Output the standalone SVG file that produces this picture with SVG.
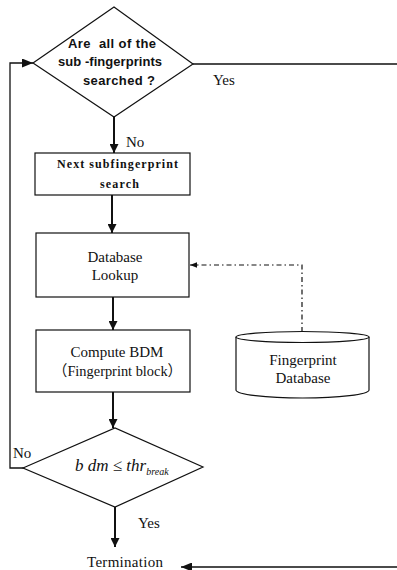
<svg xmlns="http://www.w3.org/2000/svg" width="397" height="570" viewBox="0 0 397 570">
  <style>
    .shape { fill: #fff; stroke: #111; stroke-width: 1.2; }
    .line { fill: none; stroke: #111; stroke-width: 1.3; }
    .thick { fill: none; stroke: #111; stroke-width: 2; }
    .dashdot { fill: none; stroke: #111; stroke-width: 1.2; stroke-dasharray: 5 3 1.5 3; }
    .serif { font-family: "Liberation Serif", "Times New Roman", serif; font-size: 15px; fill: #111; }
    .sans { font-family: "Liberation Sans", Arial, sans-serif; font-size: 13px; font-weight: bold; fill: #111; }
    .bold { font-family: "Liberation Serif", "Times New Roman", serif; font-size: 12px; font-weight: bold; fill: #111; }
    .math { font-family: "Liberation Serif", "Times New Roman", serif; font-style: italic; font-size: 17px; fill: #111; }
  </style>
  <defs>
    <marker id="arrow" viewBox="0 0 10 10" refX="10" refY="5" markerWidth="9" markerHeight="9" markerUnits="userSpaceOnUse" orient="auto">
      <path d="M0,0 L10,5 L0,10 z" fill="#111"/>
    </marker>
    <marker id="arrowWide" viewBox="0 0 10 10" refX="10" refY="5" markerWidth="11" markerHeight="9" markerUnits="userSpaceOnUse" orient="auto" preserveAspectRatio="none">
      <path d="M0,0 L10,5 L0,10 z" fill="#111"/>
    </marker>
    <marker id="arrowSmall" viewBox="0 0 10 10" refX="10" refY="5" markerWidth="7" markerHeight="7" markerUnits="userSpaceOnUse" orient="auto">
      <path d="M0,1 L10,5 L0,9 z" fill="#111"/>
    </marker>
  </defs>

  <!-- connectors -->
  <g id="connectors">
    <!-- loop back from the threshold test to the first decision -->
    <path class="line" d="M24,468 H10 V63 H33" marker-end="url(#arrowWide)"/>
    <!-- all searched: Yes, to termination -->
    <path class="line" d="M193,64 H400 V567 H181" marker-end="url(#arrowWide)"/>
    <path class="thick" d="M114,117 V153" marker-end="url(#arrow)"/>
    <path class="thick" d="M112,195 V233" marker-end="url(#arrow)"/>
    <path class="thick" d="M113,297 V330" marker-end="url(#arrow)"/>
    <path class="thick" d="M113,392 V428" marker-end="url(#arrow)"/>
    <path class="thick" d="M115,507 V547" marker-end="url(#arrow)"/>
    <!-- database feed -->
    <path class="dashdot" d="M302,332 V265 H190" marker-end="url(#arrowSmall)"/>
    <text class="serif" x="126" y="147">No</text>
    <text class="serif" x="213" y="85">Yes</text>
    <text class="serif" x="13" y="458">No</text>
    <text class="serif" x="138" y="528">Yes</text>
  </g>

  <g id="decision-all-searched">
    <polygon class="shape" points="33,63 114,7 193,64 114,117"/>
    <text class="sans" x="68" y="48" textLength="88" lengthAdjust="spacing" xml:space="preserve">Are  all of the</text>
    <text class="sans" x="58" y="66" textLength="104" lengthAdjust="spacing">sub -fingerprints</text>
    <text class="sans" x="83" y="85" textLength="72" lengthAdjust="spacing">searched ?</text>
  </g>

  <g id="next-search">
    <rect class="shape" x="35" y="153" width="155" height="42"/>
    <text class="bold" x="57" y="168" textLength="121" lengthAdjust="spacing">Next subfingerprint</text>
    <text class="bold" x="100" y="188" textLength="39" lengthAdjust="spacing">search</text>
  </g>

  <g id="database-lookup">
    <rect class="shape" x="36" y="233" width="153" height="64"/>
    <text class="serif" x="115" y="262" text-anchor="middle">Database</text>
    <text class="serif" x="115" y="280" text-anchor="middle">Lookup</text>
  </g>

  <g id="compute-bdm">
    <rect class="shape" x="36" y="330" width="154" height="62"/>
    <text class="serif" x="117" y="357" text-anchor="middle">Compute BDM</text>
    <text class="serif" x="53" y="376" textLength="129" lengthAdjust="spacingAndGlyphs" style="font-family: 'Liberation Serif', 'Noto Sans CJK SC', serif">（Fingerprint block）</text>
  </g>

  <g id="fingerprint-database">
    <path class="shape" d="M236,337 V390 A66.5,8 0 0 0 369,390 V337"/>
    <ellipse class="shape" cx="302.5" cy="337" rx="66.5" ry="5.5"/>
    <text class="serif" x="303" y="365" text-anchor="middle">Fingerprint</text>
    <text class="serif" x="303" y="383" text-anchor="middle">Database</text>
  </g>

  <g id="decision-threshold">
    <polygon class="shape" points="23,468 115,428 203,467 115,507"/>
    <text class="math" x="75" y="471">b dm ≤ thr<tspan font-size="10" dy="4">break</tspan></text>
  </g>

  <g id="termination">
    <text class="serif" x="87" y="567" textLength="76" lengthAdjust="spacing">Termination</text>
  </g>
</svg>
